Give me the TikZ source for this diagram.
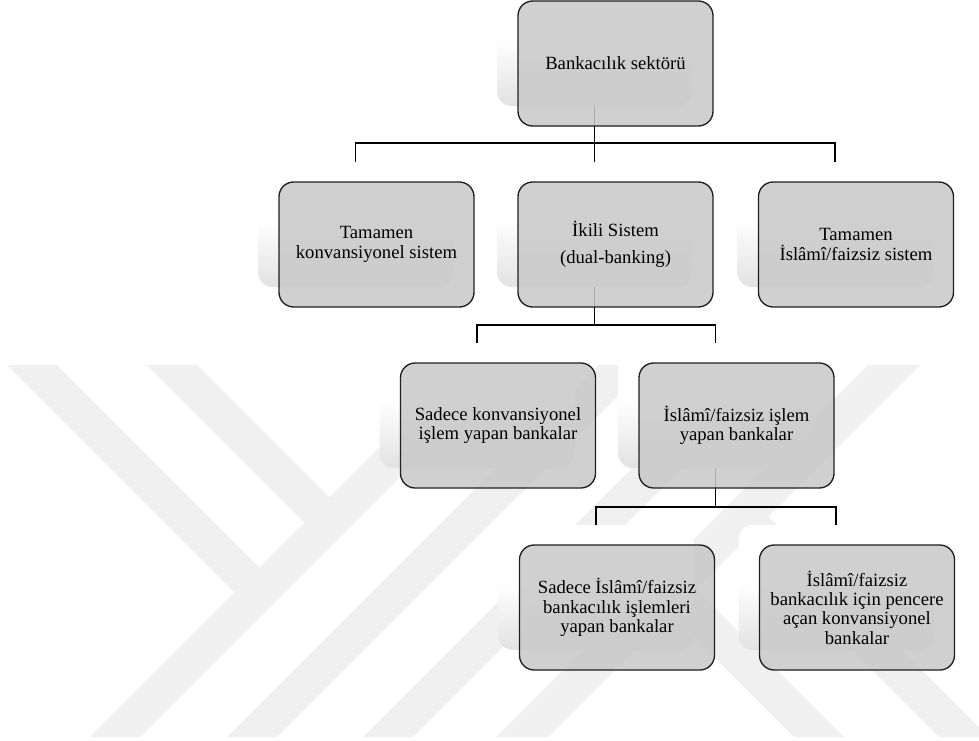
\documentclass[tikz,border=0pt]{standalone}
\usepackage{fontspec}
\setmainfont{Liberation Serif}
\pgfdeclarelayer{bg}
\pgfsetlayers{bg,main}
\definecolor{wm}{RGB}{240,240,240}
\definecolor{boxfill}{RGB}{200,200,200}
\definecolor{shgray}{RGB}{226,226,226}
\pgfdeclareverticalshading{shfade}{100bp}{color(0bp)=(shgray); color(25bp)=(shgray); color(52bp)=(white); color(100bp)=(white)}
\begin{document}
\begin{tikzpicture}[x=0.75pt,y=-0.75pt,
  box/.style={draw=black!88, line width=1pt, rounded corners=11pt, fill=boxfill,
    fill opacity=0.85, text opacity=1, draw opacity=1,
    minimum width=146.25pt, minimum height=93.75pt, align=center, inner sep=2pt,
    font=\fontsize{14}{14.5}\selectfont},
  shadowbox/.style={rounded corners=11pt, shading=shfade,
    minimum width=146.25pt, minimum height=93.75pt, inner sep=0pt},
  link/.style={draw=black, line width=1pt},
  wmband/.style={fill=wm}]
\useasboundingbox (0,0) rectangle (979,740);

% shadows
\node[shadowbox] (s0)  at (594.5,43.5) {};
\node[shadowbox] (s2a) at (355.5,224.5) {};
\node[shadowbox] (s2b) at (594.5,224.5) {};
\node[shadowbox] (s2c) at (835,224.5) {};
\node[shadowbox] (s3a) at (477,405.5) {};
\node[shadowbox] (s3b) at (715.5,405.5) {};
\node[shadowbox] (s4a) at (596,587.5) {};
\node[shadowbox] (s4b) at (836,587.5) {};

\coordinate (j1) at (594.5,143);
\coordinate (j2) at (594.5,325);
\coordinate (j3) at (715.5,507);

\begin{pgfonlayer}{bg}
  \begin{scope}
    \clip (0,0) rectangle (979,740);
    \fill[wmband] (90,737) -- (140,737) -- (512,365) -- (462,365) -- cycle;
    \fill[wmband] (227,737) -- (277,737) -- (649,365) -- (599,365) -- cycle;
    \fill[wmband] (363,737) -- (413,737) -- (785,365) -- (735,365) -- cycle;
    \fill[wmband] (496,737) -- (548,737) -- (920,365) -- (868,365) -- cycle;
    \fill[wmband] (7,365) -- (57,365) -- (271,579) -- (246,604) -- cycle;
    \fill[wmband] (147,365) -- (197,365) -- (341,509) -- (316,534) -- cycle;
    \fill[wmband] (658,601) -- (683,576) -- (844,737) -- (794,737) -- cycle;
    \fill[wmband] (730.5,528.5) -- (755.5,503.5) -- (989,737) -- (939,737) -- cycle;
  \end{scope}
  \draw[link] (s0.center) -- (j1);
  \draw[link] (s2a.north) |- (j1) -| (s2c.north);
  \draw[link] (j1) -- (s2b.north);
  \draw[link] (s2b.center) -- (j2);
  \draw[link] (s3a.north) |- (j2) -| (s3b.north);
  \draw[link] (s3b.center) -- (j3);
  \draw[link] (s4a.north) |- (j3) -| (s4b.north);
\end{pgfonlayer}

% boxes
\node[box] (b0)  at (615.5,63.5) {Bankacılık sektörü};
\node[box] (b2a) at (376.5,244.5) {Tamamen\\konvansiyonel sistem};
\node[box] (b2b) at (615.5,244.5) {İkili Sistem\\[6pt](dual-banking)};
\node[box] (b2c) at (856,244.5) {Tamamen\\İslâmî/faizsiz sistem};
\node[box] (b3a) at (498,425.5) {Sadece konvansiyonel\\işlem yapan bankalar};
\node[box] (b3b) at (736.5,425.5) {İslâmî/faizsiz işlem\\yapan bankalar};
\node[box] (b4a) at (617,607.5) {Sadece İslâmî/faizsiz\\bankacılık işlemleri\\yapan bankalar};
\node[box] (b4b) at (857,607.5) {İslâmî/faizsiz\\bankacılık için pencere\\açan konvansiyonel\\bankalar};
\end{tikzpicture}
\end{document}
